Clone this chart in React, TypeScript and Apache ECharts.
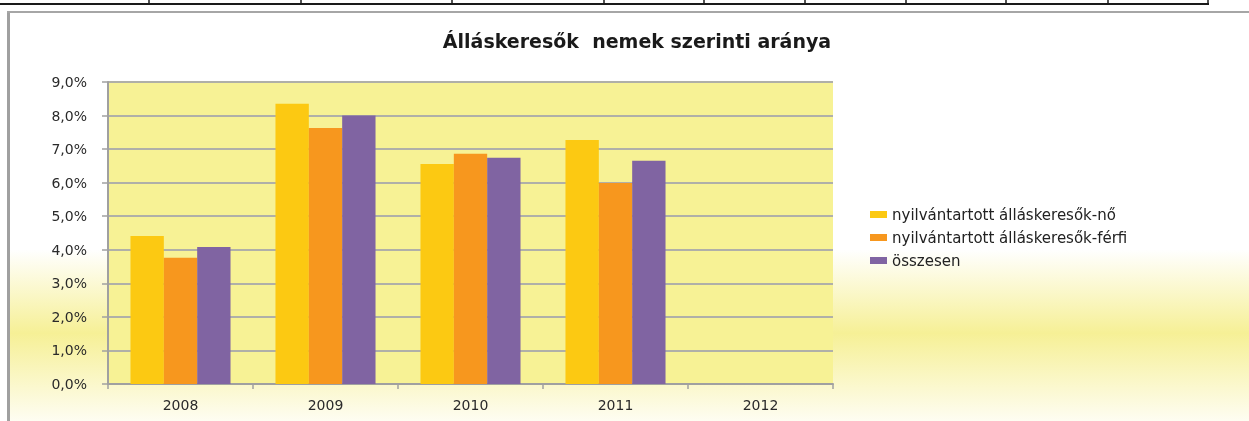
import React, { useEffect, useRef } from "react";
import * as echarts from "echarts";

const categories = ["2008", "2009", "2010", "2011", "2012"];
const seriesNames = [
  "nyilvántartott álláskeresők-nő",
  "nyilvántartott álláskeresők-férfi",
  "összesen",
];
const noValues = [4.41, 8.35, 6.56, 7.27, null];
const ferfiValues = [3.76, 7.63, 6.86, 5.99, null];
const osszesenValues = [4.08, 8.0, 6.74, 6.65, null];
const seriesColors = ["#FCC912", "#F7971E", "#8064A2"];
const titleText = "Álláskeresők  nemek szerinti aránya";
const cellLineXs = [149, 301, 452, 604, 704, 805, 906, 1006, 1108, 1208];

export default function App() {
  const ref = useRef<HTMLDivElement>(null);
  useEffect(() => {
    if (!ref.current) return;
    const chart = echarts.init(ref.current, null, { renderer: "svg" });
    const values = [noValues, ferfiValues, osszesenValues];
    const graphics: any[] = [
      {
        type: "rect",
        z: -100,
        silent: true,
        shape: { x: 9, y: 13, width: 1240, height: 408 },
        style: {
          fill: new echarts.graphic.LinearGradient(0, 0, 0, 1, [
            { offset: 0, color: "#FFFFFF" },
            { offset: 0.58, color: "#FFFFFF" },
            { offset: 0.785, color: "#F6F096" },
            { offset: 1, color: "#FEFDF2" },
          ]),
        },
      },
      {
        type: "line",
        silent: true,
        shape: { x1: 0, y1: 4, x2: 1209, y2: 4 },
        style: { stroke: "#1a1a1a", lineWidth: 2 },
      },
      {
        type: "line",
        silent: true,
        shape: { x1: 8.5, y1: 12, x2: 8.5, y2: 421 },
        style: { stroke: "#a0a0a0", lineWidth: 3 },
      },
      {
        type: "line",
        silent: true,
        shape: { x1: 7, y1: 12, x2: 1249, y2: 12 },
        style: { stroke: "#a6a6a6", lineWidth: 2 },
      },
    ];
    cellLineXs.forEach((x) => {
      graphics.push({
        type: "line",
        silent: true,
        shape: { x1: x, y1: 0, x2: x, y2: 5 },
        style: { stroke: "#1a1a1a", lineWidth: 1.5 },
      });
    });
    chart.setOption({
      animation: false,
      title: {
        text: titleText,
        left: 632,
        top: 26,
        textAlign: "center",
        textStyle: {
          fontFamily: "DejaVu Sans",
          fontWeight: "bold",
          fontSize: 19,
          color: "#1a1a1a",
        },
      },
      graphic: graphics,
      legend: {
        orient: "vertical",
        left: 865,
        top: 202,
        itemWidth: 17,
        itemHeight: 7,
        itemGap: 8,
        icon: "rect",
        data: seriesNames,
        textStyle: {
          fontFamily: "DejaVu Sans",
          fontSize: 15,
          color: "#222",
        },
      },
      grid: {
        left: 108,
        right: 416,
        top: 82,
        bottom: 37,
        show: true,
        backgroundColor: "#F7F295",
        borderWidth: 0,
      },
      xAxis: {
        type: "category",
        data: categories,
        axisLine: { lineStyle: { color: "#a0a0a0", width: 2 } },
        axisTick: { show: true, length: 5, lineStyle: { color: "#a0a0a0", width: 1.5 } },
        axisLabel: {
          margin: 14,
          fontFamily: "DejaVu Sans",
          fontSize: 14,
          color: "#2a2a2a",
        },
      },
      yAxis: {
        type: "value",
        min: 0,
        max: 9,
        interval: 1,
        axisLine: { show: true, lineStyle: { color: "#a0a0a0", width: 2 } },
        axisTick: { show: true, length: 6, lineStyle: { color: "#a0a0a0", width: 1.5 } },
        splitLine: { lineStyle: { color: "#b0b0a8", width: 2 } },
        axisLabel: {
          margin: 21,
          fontFamily: "DejaVu Sans",
          fontSize: 14,
          color: "#2a2a2a",
          formatter: (v: number) => v.toFixed(1).replace(".", ",") + "%",
        },
      },
      series: seriesNames.map((name, i) => ({
        name,
        type: "bar",
        data: values[i],
        barGap: "0%",
        barCategoryGap: "31%",
        itemStyle: { color: seriesColors[i] },
      })),
    });
    return () => chart.dispose();
  }, []);
  return (
    <div
      ref={ref}
      style={{ position: "fixed", left: 0, top: 0, width: 1249, height: 421 }}
    />
  );
}
